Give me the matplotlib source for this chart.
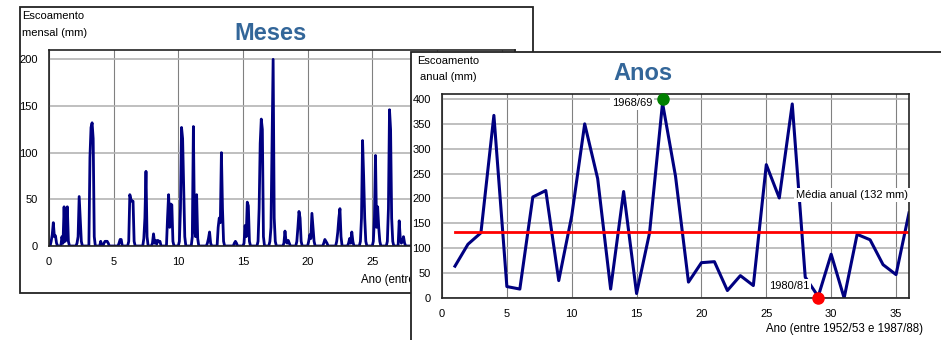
import numpy as np
import matplotlib
matplotlib.use("Agg")
import matplotlib.pyplot as plt
from matplotlib.patches import Rectangle
from matplotlib.transforms import Bbox

plt.rcParams['font.family'] = ['Liberation Sans', 'DejaVu Sans']

# monthly runoff (mm), 12 values per hydrological year, 36 years
monthly_by_year = [
    [0, 0, 5, 12, 25, 10, 11, 3, 0, 0, 0, 0],
    [10, 3, 42, 5, 8, 42, 5, 0, 0, 0, 0, 0],
    [0, 0, 3, 10, 53, 30, 5, 0, 0, 0, 0, 0],
    [0, 0, 95, 127, 132, 115, 10, 0, 0, 0, 0, 0],
    [5, 0, 0, 3, 5, 5, 5, 3, 0, 0, 0, 0],
    [0, 0, 0, 0, 0, 3, 7, 7, 0, 0, 0, 0],
    [0, 0, 5, 55, 50, 48, 48, 5, 0, 0, 0, 0],
    [0, 0, 0, 0, 8, 30, 80, 10, 0, 0, 0, 0],
    [3, 13, 3, 6, 2, 6, 5, 5, 0, 0, 0, 0],
    [0, 0, 30, 55, 20, 45, 44, 5, 0, 0, 0, 0],
    [0, 5, 40, 127, 115, 60, 10, 0, 0, 0, 0, 0],
    [0, 10, 128, 20, 10, 55, 8, 0, 0, 0, 0, 0],
    [0, 0, 0, 3, 8, 15, 3, 0, 0, 0, 0, 0],
    [0, 20, 30, 25, 100, 40, 5, 0, 0, 0, 0, 0],
    [0, 0, 0, 0, 3, 5, 3, 0, 0, 0, 0, 0],
    [0, 3, 22, 10, 47, 43, 5, 0, 0, 0, 0, 0],
    [0, 0, 5, 40, 110, 136, 125, 10, 0, 0, 0, 0],
    [0, 5, 20, 108, 200, 30, 5, 0, 0, 0, 0, 0],
    [0, 0, 3, 16, 5, 3, 6, 3, 0, 0, 0, 0],
    [0, 0, 5, 20, 37, 30, 5, 0, 0, 0, 0, 0],
    [0, 5, 12, 8, 35, 20, 5, 0, 0, 0, 0, 0],
    [0, 0, 0, 3, 7, 5, 3, 0, 0, 0, 0, 0],
    [0, 0, 0, 5, 15, 30, 40, 10, 0, 0, 0, 0],
    [0, 0, 3, 8, 3, 15, 5, 0, 0, 0, 0, 0],
    [0, 5, 30, 113, 75, 30, 5, 0, 0, 0, 0, 0],
    [0, 5, 30, 97, 20, 42, 20, 5, 0, 0, 0, 0],
    [0, 0, 5, 40, 146, 125, 30, 5, 0, 0, 0, 0],
    [0, 27, 8, 3, 5, 10, 3, 0, 0, 0, 0, 0],
    [0, 0, 5, 20, 10, 5, 0, 0, 0, 0, 0, 0],
    [0, 0, 0, 2, 0, 0, 0, 0, 0, 0, 0, 0],
    [0, 0, 10, 40, 30, 5, 0, 0, 0, 0, 0, 0],
    [0, 0, 0, 0, 0, 0, 0, 0, 0, 0, 0, 0],
    [0, 5, 20, 50, 40, 10, 0, 0, 0, 0, 0, 0],
    [0, 5, 30, 50, 25, 5, 0, 0, 0, 0, 0, 0],
    [0, 5, 20, 30, 10, 0, 0, 0, 0, 0, 0, 0],
    [0, 10, 40, 70, 40, 10, 0, 0, 0, 0, 0, 0],
]

# annual runoff (mm), years 1..36
years = list(range(1, 37))
annual = [64, 108, 131, 367, 23, 18, 203, 216, 35, 165,
          350, 240, 18, 214, 9, 131, 392, 245, 32, 71,
          73, 15, 45, 25, 268, 201, 390, 42, 3, 88,
          0, 128, 117, 67, 47, 171]
mean_annual = 132
max_year, max_label = 17, "1968/69"
min_year, min_label = 29, "1980/81"

W, H = 941, 340
fig = plt.figure(figsize=(W / 100, H / 100), dpi=100)


def box(x0, y0, x1, y1):
    # pixel coords (top-left origin) -> figure fraction [l, b, w, h]
    return [x0 / W, 1 - y1 / H, (x1 - x0) / W, (y1 - y0) / H]


def ftext(x, y, s, **kw):
    return fig.text(x / W, 1 - y / H, s, **kw)


navy = '#000080'
title_col = '#336699'
fs = 8

# ---- left panel (monthly) ----
l, b, w, h = box(20, 7, 533, 293)
fig.patches.append(Rectangle((l, b), w, h, transform=fig.transFigure,
                             facecolor='white', edgecolor='#222222',
                             linewidth=1.3, zorder=0.5))
axL = fig.add_axes(box(49, 50, 514.5, 246), zorder=1)
monthly = np.array(monthly_by_year).ravel()
xm = np.arange(len(monthly)) / 12.0
axL.plot(xm, monthly, color=navy, lw=2)
axL.set_xlim(0, 36)
axL.set_ylim(0, 210)
axL.set_yticks([0, 50, 100, 150, 200])
axL.set_xticks([0, 5, 10, 15, 20, 25, 30, 35])
axL.grid(axis='y', color='#b4b4b4', lw=1.2)
axL.grid(axis='x', color='#808080', lw=0.8)
axL.set_axisbelow(True)
axL.tick_params(length=0, labelsize=fs, pad=8)
for s in axL.spines.values():
    s.set_color('#222222')
    s.set_linewidth(1.2)

ftext(271, 34, "Meses", ha='center', va='center', fontsize=17,
      fontweight='bold', color=title_col)
ftext(22, 16, "Escoamento", ha='left', va='center', fontsize=fs)
ftext(22, 33, "mensal (mm)", ha='left', va='center', fontsize=fs)
xl = ftext(361, 280, "Ano (entre 1952/53 e 1987/88)", ha='left',
           va='center', fontsize=8.3, zorder=0.8)
xl.set_clip_box(Bbox.from_extents(0, 0, 410, H))
xl.set_clip_on(True)

# ---- right panel (annual) ----
l, b, w, h = box(411, 52, 960, 360)
fig.patches.append(Rectangle((l, b), w, h, transform=fig.transFigure,
                             facecolor='white', edgecolor='#222222',
                             linewidth=1.3, zorder=2))
axR = fig.add_axes(box(442, 94, 909, 298), zorder=3)
axR.plot(years, annual, color=navy, lw=2.2)
axR.plot([years[0], years[-1]], [mean_annual, mean_annual], color='#ff0000', lw=2)
axR.plot([max_year], [400], 'o', color='#008000', ms=8, clip_on=False, zorder=5)
axR.plot([min_year], [0], 'o', color='#ff0000', ms=8, clip_on=False, zorder=5)
axR.set_xlim(0, 36)
axR.set_ylim(0, 410)
axR.set_yticks(range(0, 401, 50))
axR.set_xticks([0, 5, 10, 15, 20, 25, 30, 35])
axR.grid(axis='y', color='#b4b4b4', lw=1.2)
axR.grid(axis='x', color='#808080', lw=0.8)
axR.set_axisbelow(True)
axR.tick_params(length=0, labelsize=fs, pad=8)
for s in axR.spines.values():
    s.set_color('#222222')
    s.set_linewidth(1.2)

wb = dict(facecolor='white', edgecolor='none', pad=1.5)
axR.text(max_year - 0.8, 392, max_label, ha='right', va='center',
         fontsize=fs, bbox=wb, zorder=4)
axR.text(min_year - 0.7, 24, min_label, ha='right', va='center',
         fontsize=fs, bbox=wb, zorder=4)
axR.text(35.9, 207, "Média anual (%d mm)" % mean_annual, ha='right',
         va='center', fontsize=fs, bbox=wb, zorder=4)

ftext(643, 73, "Anos", ha='center', va='center', fontsize=17,
      fontweight='bold', color=title_col, zorder=4)
ftext(417, 61, "Escoamento", ha='left', va='center', fontsize=fs, zorder=4)
ftext(420, 77, "anual (mm)", ha='left', va='center', fontsize=fs, zorder=4)
ftext(923, 329, "Ano (entre 1952/53 e 1987/88)", ha='right', va='center',
      fontsize=8.3, zorder=4)

fig.savefig("out.png", dpi=100)
